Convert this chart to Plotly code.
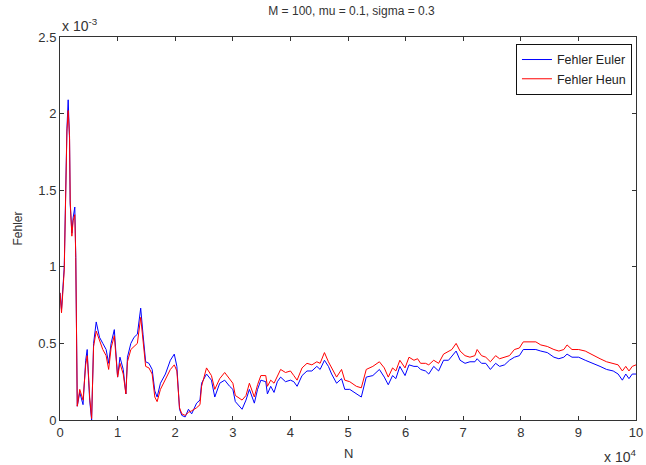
import plotly.graph_objects as go

# N values (sample count)
n_values = [0, 260, 740, 980, 1200, 1420, 1660, 1770, 2060, 2280, 2570, 2740, 2920, 3000,
            3430, 3770, 4000, 4460, 4720, 4970, 5150, 5490, 5830, 6290, 6860, 7430, 8010,
            8450, 8870, 9430, 10000, 10410, 10980, 11440, 11710, 12300, 12860, 13430, 14010,
            14410, 14870, 15440, 16000, 16460, 16860, 17440, 18300, 19160, 19840, 20290,
            20750, 21150, 21730, 22300, 22860, 23720, 24300, 24580, 25440, 26290, 26870,
            27730, 28590, 29450, 30010, 30440, 30870, 31610, 32290, 32880, 33740, 34300,
            34870, 35720, 36010, 36580, 37160, 37730, 38300, 39150, 40010, 40590, 41160,
            42020, 42880, 43730, 44590, 45160, 45910, 46600, 47160, 48020, 48880, 49440,
            50300, 51450, 52310, 53170, 54310, 55450, 56300, 56990, 57740, 58310, 59000,
            59900, 60590, 61450, 62080, 62600, 63460, 64020, 64880, 65730, 66590, 67450,
            68030, 68770, 69460, 70320, 71170, 72030, 72420, 73180, 73920, 74720, 75630,
            76320, 77180, 78030, 78890, 79750, 80430, 81460, 82610, 83470, 84600, 85750,
            86610, 87470, 88030, 88890, 90040, 91190, 92610, 93760, 94890, 96040, 96900,
            97630, 98220, 98780, 99350, 100000]

# Errors in units of 1e-3
fehler_euler = [0.83, 0.72, 1.00, 1.57, 1.90, 2.09, 1.83, 1.41, 1.22, 1.32, 1.39, 1.06, 0.45, 0.09,
                0.18, 0.12, 0.10, 0.39, 0.46, 0.26, 0.13, 0.00, 0.50, 0.64, 0.54, 0.50, 0.46,
                0.37, 0.50, 0.59, 0.28, 0.41, 0.33, 0.17, 0.41, 0.50, 0.54, 0.56, 0.73,
                0.56, 0.38, 0.37, 0.33, 0.19, 0.15, 0.24, 0.30, 0.39, 0.43, 0.35,
                0.07, 0.03, 0.02, 0.07, 0.04, 0.11, 0.13, 0.24, 0.30, 0.26, 0.15,
                0.24, 0.26, 0.22, 0.20, 0.12, 0.10, 0.07, 0.13, 0.20, 0.11, 0.20,
                0.26, 0.25, 0.17, 0.22, 0.18, 0.25, 0.28, 0.25, 0.26, 0.25, 0.22,
                0.29, 0.32, 0.32, 0.35, 0.33, 0.39, 0.35, 0.30, 0.24, 0.27, 0.20,
                0.20, 0.17, 0.15, 0.28, 0.29, 0.33, 0.28, 0.23, 0.29, 0.27, 0.35,
                0.29, 0.36, 0.35, 0.35, 0.33, 0.32, 0.30, 0.35, 0.32, 0.39, 0.39,
                0.42, 0.45, 0.39, 0.37, 0.38, 0.38, 0.40, 0.37, 0.37, 0.33, 0.37,
                0.35, 0.36, 0.39, 0.41, 0.42, 0.46, 0.46, 0.46, 0.45, 0.44, 0.41,
                0.40, 0.41, 0.43, 0.41, 0.41, 0.39, 0.37, 0.35, 0.33, 0.32, 0.30,
                0.26, 0.30, 0.27, 0.30, 0.30]

fehler_heun = [0.83, 0.70, 0.98, 1.55, 1.88, 2.02, 1.85, 1.43, 1.20, 1.30, 1.34, 1.06, 0.45, 0.09,
               0.20, 0.16, 0.13, 0.36, 0.42, 0.28, 0.15, 0.01, 0.48, 0.58, 0.52, 0.46, 0.42,
               0.33, 0.47, 0.55, 0.28, 0.37, 0.30, 0.17, 0.38, 0.46, 0.48, 0.50, 0.67,
               0.54, 0.35, 0.34, 0.30, 0.15, 0.12, 0.20, 0.27, 0.33, 0.36, 0.32,
               0.08, 0.04, 0.03, 0.05, 0.06, 0.08, 0.10, 0.22, 0.34, 0.29, 0.20,
               0.27, 0.31, 0.27, 0.24, 0.16, 0.15, 0.13, 0.16, 0.24, 0.15, 0.23,
               0.29, 0.29, 0.22, 0.26, 0.24, 0.29, 0.33, 0.31, 0.32, 0.29, 0.26,
               0.34, 0.37, 0.36, 0.38, 0.37, 0.44, 0.38, 0.34, 0.28, 0.33, 0.26,
               0.25, 0.22, 0.21, 0.33, 0.35, 0.38, 0.34, 0.28, 0.34, 0.32, 0.39,
               0.34, 0.41, 0.39, 0.40, 0.37, 0.37, 0.36, 0.39, 0.37, 0.43, 0.45,
               0.46, 0.50, 0.45, 0.42, 0.41, 0.42, 0.46, 0.42, 0.41, 0.38, 0.42,
               0.40, 0.41, 0.42, 0.46, 0.47, 0.51, 0.51, 0.51, 0.49, 0.48, 0.46,
               0.45, 0.46, 0.49, 0.46, 0.46, 0.45, 0.42, 0.40, 0.38, 0.37, 0.36,
               0.32, 0.35, 0.32, 0.35, 0.36]

x_tick_vals = [0, 1, 2, 3, 4, 5, 6, 7, 8, 9, 10]
x_tick_text = ["0", "1", "2", "3", "4", "5", "6", "7", "8", "9", "10"]
y_tick_vals = [0, 0.5, 1, 1.5, 2, 2.5]
y_tick_text = ["0", "0.5", "1", "1.5", "2", "2.5"]

x_scaled = [n / 1e4 for n in n_values]

FONT = "Liberation Sans, Arial, sans-serif"

fig = go.Figure()
fig.add_trace(go.Scatter(x=x_scaled, y=fehler_euler, mode="lines", name="Fehler Euler",
                         line=dict(color="#0000FF", width=1)))
fig.add_trace(go.Scatter(x=x_scaled, y=fehler_heun, mode="lines", name="Fehler Heun",
                         line=dict(color="#FF0000", width=1)))

axis_common = dict(showgrid=False, zeroline=False, showline=True, linecolor="#333333",
                   linewidth=1, mirror="ticks", ticks="inside", ticklen=4,
                   tickcolor="#333333", tickfont=dict(family=FONT, size=13, color="#333333"))

fig.update_layout(
    width=646, height=465,
    margin=dict(l=60, r=3, t=37, b=45),
    paper_bgcolor="white", plot_bgcolor="white",
    font=dict(family=FONT, color="#333333"),
    title=dict(text="M = 100, mu = 0.1, sigma = 0.3", x=(60 + 643) / 2 / 646, xanchor="center",
               y=1 - 11 / 465, yanchor="middle", yref="container",
               font=dict(family=FONT, size=12, color="#333333")),
    xaxis=dict(range=[0, 10], tickvals=x_tick_vals, ticktext=x_tick_text,
               ticklabeloverflow="allow", **axis_common),
    yaxis=dict(range=[0, 2.5], tickvals=y_tick_vals, ticktext=y_tick_text, **axis_common),
    legend=dict(x=0.993, y=0.982, xanchor="right", yanchor="top", bgcolor="white",
                bordercolor="#111111", borderwidth=1,
                font=dict(family=FONT, size=12.5, color="#222222"), tracegroupgap=0),
    showlegend=True,
    annotations=[
        dict(text="x 10<sup>-3</sup>", x=0, y=1, xref="paper", yref="paper", xanchor="left",
             yanchor="bottom", showarrow=False, yshift=1,
             font=dict(family=FONT, size=14, color="#333333")),
        dict(text="x 10<sup>4</sup>", x=1, y=0, xref="paper", yref="paper", xanchor="right",
             yanchor="top", showarrow=False, yshift=-25, xshift=2,
             font=dict(family=FONT, size=14, color="#333333")),
        dict(text="N", x=0.5, y=0, xref="paper", yref="paper", xanchor="center",
             yanchor="top", showarrow=False, yshift=-24,
             font=dict(family=FONT, size=13, color="#333333")),
        dict(text="Fehler", x=0, y=0.5, xref="paper", yref="paper", xanchor="center",
             yanchor="middle", showarrow=False, xshift=-43, textangle=-90,
             font=dict(family=FONT, size=12, color="#333333")),
    ],
)

fig.write_html("out.html")
